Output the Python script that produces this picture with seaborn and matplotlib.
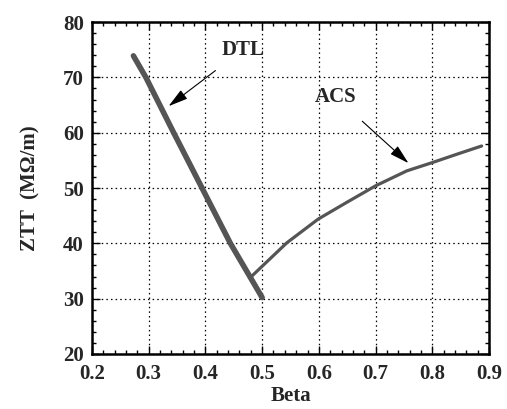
import matplotlib
matplotlib.use("Agg")
import matplotlib.pyplot as plt
from matplotlib.ticker import MultipleLocator
import seaborn as sns
import pandas as pd

# DTL curve
dtl_beta = [0.273, 0.295, 0.344, 0.394, 0.444, 0.500]
dtl_ztt = [73.9, 70.0, 60.0, 50.0, 40.0, 30.2]
# ACS curve
acs_beta = [0.482, 0.5435, 0.599, 0.649, 0.700, 0.755, 0.800, 0.843, 0.887]
acs_ztt = [34.1, 40.1, 44.4, 47.4, 50.4, 53.1, 54.6, 56.1, 57.6]

xticks = [0.2, 0.3, 0.4, 0.5, 0.6, 0.7, 0.8, 0.9]
yticks = [20, 30, 40, 50, 60, 70, 80]

sns.set_style("ticks")
plt.rcParams['font.family'] = ['Liberation Serif', 'DejaVu Serif']
plt.rcParams['font.weight'] = 'bold'

fig = plt.figure(figsize=(5.07, 4.09), dpi=100)
ax = fig.add_axes([0.1815, 0.1345, 0.783, 0.8115])

dtl = pd.DataFrame({"beta": dtl_beta, "ztt": dtl_ztt})
acs = pd.DataFrame({"beta": acs_beta, "ztt": acs_ztt})
sns.lineplot(data=dtl, x="beta", y="ztt", ax=ax, color="#555555", lw=4.0,
             sort=False, solid_capstyle="round", solid_joinstyle="round", zorder=3)
sns.lineplot(data=acs, x="beta", y="ztt", ax=ax, color="#555555", lw=2.3,
             sort=False, solid_capstyle="round", solid_joinstyle="round", zorder=3)

ax.set_xlim(0.2, 0.9)
ax.set_ylim(20, 80)
ax.set_xticks(xticks)
ax.set_yticks(yticks)
ax.set_xticklabels([f"{t:.1f}" for t in xticks])
ax.set_yticklabels([str(t) for t in yticks])
ax.xaxis.set_minor_locator(MultipleLocator(0.02))
ax.yaxis.set_minor_locator(MultipleLocator(2))
ax.tick_params(which="both", direction="in", top=True, right=True, width=1.0, color="black")
ax.tick_params(which="major", length=6, labelsize=15)
ax.tick_params(axis="x", which="major", pad=7)
ax.tick_params(axis="y", which="major", pad=6)
ax.tick_params(which="minor", length=3)
for lab in ax.get_xticklabels() + ax.get_yticklabels():
    lab.set_fontweight("bold")

ax.grid(True, which="major", color="black", linestyle=(0, (1.2, 2.5)), linewidth=0.9)
for s in ax.spines.values():
    s.set_linewidth(1.8)
    s.set_color("black")

ax.set_xlabel("Beta", fontsize=15, fontweight="bold", labelpad=2)
ax.set_ylabel("ZTT  (MΩ/m)", fontsize=15, fontweight="bold", labelpad=16)

ax.annotate("DTL", xy=(0.335, 64.8), xytext=(0.466, 75.0), fontsize=15, fontweight="bold",
            ha="center", va="center",
            arrowprops=dict(arrowstyle="-|>,head_length=0.8,head_width=0.22", color="black",
                            lw=0.8, shrinkA=9, shrinkB=0))
ax.annotate("ACS", xy=(0.758, 54.5), xytext=(0.629, 66.5), fontsize=15, fontweight="bold",
            ha="center", va="center",
            arrowprops=dict(arrowstyle="-|>,head_length=0.8,head_width=0.22", color="black",
                            lw=0.8, shrinkA=12, shrinkB=0))

fig.savefig("out.png", dpi=100, facecolor="white")
